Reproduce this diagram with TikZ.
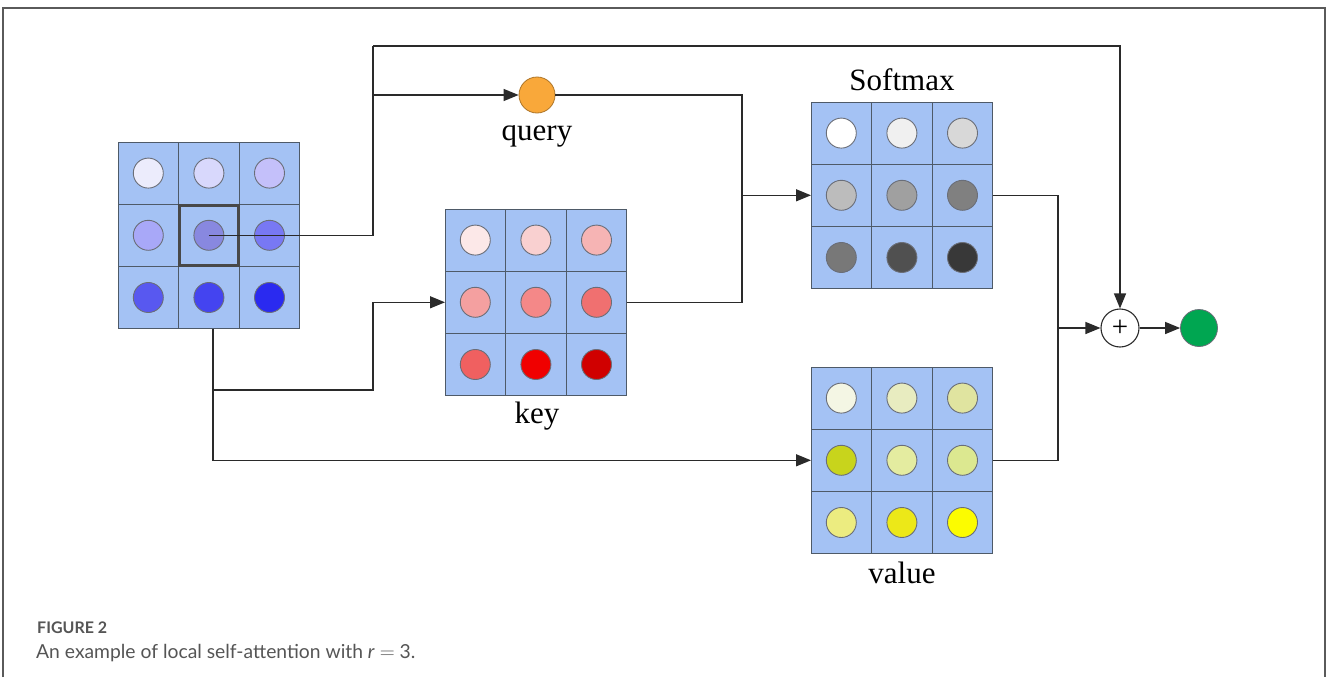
\documentclass[tikz,border=0pt]{standalone}
\usepackage{fontspec}
\setmainfont{Liberation Serif}
\newfontfamily\capfont{Lato}
\usetikzlibrary{arrows.meta,calc}
\definecolor{cellc}{HTML}{A4C2F4}
\definecolor{gridc}{HTML}{4E5A68}
\definecolor{dotc}{HTML}{6A6E78}
\definecolor{linec}{HTML}{2A2A2A}
\definecolor{framec}{HTML}{5A5A5A}
\definecolor{capc}{HTML}{555555}
% input grid
\definecolor{A11}{HTML}{ECECFC}\definecolor{A12}{HTML}{D8D8FC}\definecolor{A13}{HTML}{C4C0FA}
\definecolor{A21}{HTML}{A8A8F8}\definecolor{A22}{HTML}{8888E0}\definecolor{A23}{HTML}{7878F4}
\definecolor{A31}{HTML}{5858F0}\definecolor{A32}{HTML}{4444F0}\definecolor{A33}{HTML}{2A2AF0}
% key
\definecolor{K11}{HTML}{FCE8E8}\definecolor{K12}{HTML}{F9D0D0}\definecolor{K13}{HTML}{F6B4B4}
\definecolor{K21}{HTML}{F4A0A0}\definecolor{K22}{HTML}{F48888}\definecolor{K23}{HTML}{F07070}
\definecolor{K31}{HTML}{F06060}\definecolor{K32}{HTML}{F00000}\definecolor{K33}{HTML}{D00000}
% softmax
\definecolor{S11}{HTML}{FFFFFF}\definecolor{S12}{HTML}{F0F0F0}\definecolor{S13}{HTML}{D8D8D8}
\definecolor{S21}{HTML}{BCBCBC}\definecolor{S22}{HTML}{A0A0A0}\definecolor{S23}{HTML}{808080}
\definecolor{S31}{HTML}{787878}\definecolor{S32}{HTML}{505050}\definecolor{S33}{HTML}{383838}
% value
\definecolor{V11}{HTML}{F4F6E4}\definecolor{V12}{HTML}{E8ECC0}\definecolor{V13}{HTML}{E0E4A0}
\definecolor{V21}{HTML}{C8D41C}\definecolor{V22}{HTML}{E4ECA0}\definecolor{V23}{HTML}{DCE890}
\definecolor{V31}{HTML}{ECEC80}\definecolor{V32}{HTML}{ECE818}\definecolor{V33}{HTML}{FCFC00}
\definecolor{queryc}{HTML}{F9A83A}
\definecolor{outc}{HTML}{00A651}
\newcommand{\mygrid}[3]{% name, left x, top y
  \node[gridbox] (#1) at (#2+90.9,#3+93.3) {};
  \foreach \r in {1,2,3}{
    \foreach \c in {1,2,3}{
      \node[cellbox] (#1-\r\c) at (#2+\c*60.6-30.3,#3+\r*62.2-31.1) {};
      \node[dot, fill=#1\r\c] (#1d\r\c) at (#1-\r\c) {};
    }
  }
}
\tikzset{
  gridbox/.style={minimum width=181.8pt, minimum height=186.6pt, inner sep=0pt, outer sep=0pt},
  cellbox/.style={draw=gridc, fill=cellc, line width=1pt, minimum width=60.6pt, minimum height=62.2pt, inner sep=0pt, outer sep=0pt},
  dot/.style={circle, draw=dotc, line width=0.9pt, minimum size=30pt, inner sep=0pt},
  conn/.style={draw=linec, line width=1.3pt},
  arr/.style={conn, -{Triangle[length=15pt,width=12pt]}},
  lab/.style={font=\fontsize{31}{31}\selectfont, anchor=base},
}
\begin{document}
\begin{tikzpicture}[x=1pt,y=-1pt]
\useasboundingbox (0,0) rectangle (1327,677);
\fill[white] (0,0) rectangle (1327,677);
% frame
\draw[framec, line width=1.5pt] (3,677) -- (3,8) -- (1325,8) -- (1325,677);
% grids
\mygrid{A}{118}{142}
\mygrid{K}{445}{209}
\mygrid{S}{811}{102}
\mygrid{V}{811}{367}
\node[draw=framec!80!black, line width=3pt, minimum width=59pt, minimum height=60pt, inner sep=0pt] (hl) at (A-22) {};
% other nodes
\node[circle, draw=queryc!70!black, fill=queryc, line width=0.8pt, minimum size=36pt, inner sep=0pt] (q) at (537,95) {};
\node[circle, draw=linec, fill=white, line width=1.1pt, minimum size=38pt, inner sep=0pt, font=\fontsize{29}{29}\selectfont] (plus) at (1120,328) {+};
\node[circle, draw=dotc, fill=outc, line width=0.8pt, minimum size=37pt, inner sep=0pt] (out) at (1199,328) {};
% labels
\node[lab] (lq) at (537,140) {query};
\node[lab] (lk) at (537,423) {key};
\node[lab] (ls) at (902,90) {Softmax};
\node[lab] (lv) at (902,583) {value};
% coordinates
\coordinate (tl) at (373,46);
\coordinate (qb) at (373,95);
\coordinate (mx) at (742,0);
\coordinate (rx) at (1058,0);
\coordinate (bj) at (213,390);
\coordinate (bk) at (373,390);
% connectors
\draw[conn] (Ad22.center) -| (tl);
\draw[arr] (tl) -| (plus.north);
\draw[arr] (qb) -- (q.west);
\draw[arr] (q.east) -| (mx |- S.west) -- (S.west);
\draw[conn] (K.east) -| (mx |- S.west);
\draw[arr] ([xshift=4pt]A.south) |- (V.west);
\draw[arr] (bj) -- (bk) |- (K.west);
\draw[conn] (S.east) -| (rx |- V.east) -- (V.east);
\draw[arr] (rx |- plus.west) -- (plus.west);
\draw[arr] (plus.east) -- (out.west);
% caption
\node[anchor=base west, text=capc, inner sep=0pt, font=\capfont\fontsize{16}{16}\selectfont\bfseries] (fig) at (37,633) {FIGURE 2};
\node[anchor=base west, text=capc, inner sep=0pt, font=\capfont\fontsize{19.3}{19.3}\selectfont] (cap) at (36,658) {An example of local self-attention with \textit{r} $=$ 3.};
\end{tikzpicture}
\end{document}
